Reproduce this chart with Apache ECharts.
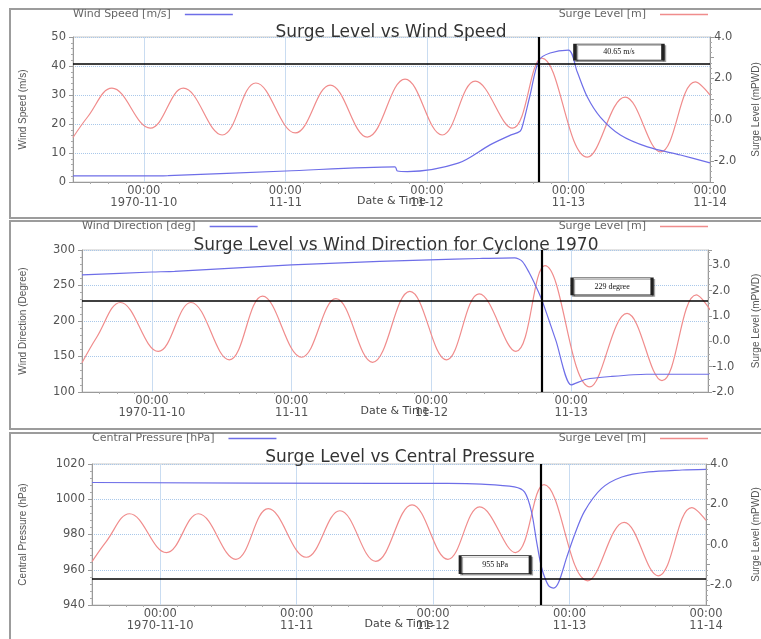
<!DOCTYPE html>
<html><head><meta charset="utf-8">
<script src="https://cdn.jsdelivr.net/npm/echarts@6/dist/echarts.min.js"></script>
<style>html,body{margin:0;padding:0;background:#fff}#c{width:761px;height:639px}</style>
</head><body><div id="c"></div>
<script>
// ---- X axis (hours since 1970-11-09 00:00) ----
const tickHours = [24, 48, 72, 96, 120];
const tickDates = ['1970-11-10', '11-11', '11-12', '11-13', '11-14'];

// ---- Surge level [m] (same in all panels; turning points) ----
const surgeHours = [12.0, 14.5, 18.6, 25.1, 30.7, 37.3, 43.0, 49.7, 55.6, 61.9, 68.3, 74.6, 80.2, 86.5, 91.5, 99.2, 105.6, 111.6, 117.5, 120.0];
const surgeLevel = [-0.85, 0.15, 1.53, -0.4, 1.53, -0.73, 1.78, -0.63, 1.68, -0.83, 1.97, -0.73, 1.87, -0.4, 2.98, -1.8, 1.1, -1.55, 1.83, 1.2];

// ---- Wind speed [m/s] ----
const windHours = [12.0, 24.0, 28.1, 48.1, 66.6, 67.0, 68.7, 77.3, 82.7, 86.0, 87.8, 88.3, 89.5, 91.0, 92.9, 96.0, 97.5, 99.2, 101.4, 104.8, 109.4, 115.0, 120.0];
const windSpeed = [2.1, 2.1, 2.2, 3.8, 5.2, 3.8, 3.6, 6.5, 12.8, 16.0, 17.5, 20.0, 30.0, 42.0, 44.5, 45.5, 37.9, 29.3, 22.4, 16.2, 12.1, 9.3, 6.6];

// ---- Wind direction [deg] ----
const dirHours = [12.0, 24.0, 27.9, 48.0, 63.1, 71.7, 80.2, 86.3, 87.6, 88.8, 90.0, 91.0, 93.4, 96.0, 98.6, 103.0, 108.9, 119.7];
const windDir = [265, 269, 270, 279, 284, 286, 288, 289, 284, 268, 248, 229, 172, 110, 118, 122, 125, 125];

// ---- Central pressure [hPa] ----
const presHours = [12.0, 62.8, 74.6, 80.5, 86.3, 88.1, 89.3, 90.2, 91.1, 92.3, 93.2, 94.1, 95.5, 96.9, 98.6, 101.6, 105.2, 109.9, 115.8, 120.0];
const pressure = [1009.5, 1009, 1009, 1008.6, 1007, 1004, 993, 976, 961, 951, 949.6, 953, 967, 980, 993, 1006, 1012.6, 1015.5, 1016.6, 1017];

// ---- Event markers ----
const eventHour = 91;
const markValues = [40.65, 229, 955];
const markLabels = ['40.65 m/s', '229 degree', '955 hPa'];

// ---- Texts ----
const titles = ['Surge Level vs Wind Speed', 'Surge Level vs Wind Direction for Cyclone 1970', 'Surge Level vs Central Pressure'];
const leftNames = ['Wind Speed [m/s]', 'Wind Direction [deg]', 'Central Pressure [hPa]'];
const leftAxisNames = ['Wind Speed (m/s)', 'Wind Direction (Degree)', 'Central Pressure (hPa)'];
const surgeName = 'Surge Level [m]';
const surgeAxisName = 'Surge Level (mPWD)';

const BLUE = '#6e6ee8', RED = '#f08c8c';
const FONT = 'DejaVu Sans';

const pairs = (h, v) => h.map((x, i) => [x, v[i]]);

const grids = [
  {left: 73, top: 37, width: 637, height: 145},
  {left: 82, top: 250, width: 626, height: 142},
  {left: 92, top: 464, width: 614, height: 141}
];
const xMax = [120, 119.5, 120];
const leftRange = [[0, 50, 10], [100, 300, 50], [940, 1020, 20]];
const rightRange = [[-3, 4], [-2, 3.6], [-3, 4]];
const leftGap = [45, 54, 64];
const rightGap = [41, 43, 45];
const boxSize = [[88, 16], [80, 17], [70, 18]];
const boxOffset = [[80, -12], [70, -14], [-46, -14]];
const titleX = [391, 396, 400];
const titleTop = [24, 237, 449];
const legendTop = [8, 220, 432];
const blueSmooth = [0.3, 0.25, 0.3];

const axisLineGray = '#9a9a9a';
const labelGray = '#555';

const xAxes = grids.map((g, i) => ({
  type: 'value', gridIndex: i, min: 12, max: xMax[i], interval: 12,
  name: 'Date & Time', nameLocation: 'middle', nameGap: 14, nameMoveOverlap: false,
  nameTextStyle: {fontFamily: FONT, fontSize: 11, color: '#444'},
  axisLine: {show: true, onZero: false, lineStyle: {color: axisLineGray}},
  axisTick: {show: false},
  minorTick: {show: true, splitNumber: 4, length: 2, lineStyle: {color: '#aaa'}},
  axisLabel: {
    fontFamily: FONT, fontSize: 11.5, color: labelGray, lineHeight: 12, margin: 3,
    showMinLabel: false,
    formatter: v => { const k = tickHours.indexOf(Math.round(v * 1000) / 1000); return k < 0 ? '' : '00:00\n' + tickDates[k]; }
  },
  splitLine: {show: true, lineStyle: {color: ['rgba(0,0,0,0)', '#c9dcf1'], width: 1, type: 'solid'}}
}));

const yAxes = [];
grids.forEach((g, i) => {
  const [mn, mx, iv] = leftRange[i];
  yAxes.push({
    type: 'value', gridIndex: i, position: 'left', min: mn, max: mx, interval: iv,
    name: leftAxisNames[i], nameLocation: 'middle', nameGap: leftGap[i], nameRotate: 90, nameMoveOverlap: false,
    nameTextStyle: {fontFamily: 'Liberation Sans', fontSize: 10, color: '#555'},
    axisLine: {show: true, lineStyle: {color: axisLineGray}},
    axisTick: {show: true, length: 4, lineStyle: {color: axisLineGray}},
    minorTick: {show: true, splitNumber: 5, length: 2, lineStyle: {color: '#aaa'}},
    axisLabel: {fontFamily: FONT, fontSize: 11.5, color: labelGray, margin: 7, formatter: v => String(v)},
    splitLine: {show: true, lineStyle: {color: '#a9c8ea', type: 'dotted', width: 1}}
  });
  const [rmn, rmx] = rightRange[i];
  yAxes.push({
    type: 'value', gridIndex: i, position: 'right', min: rmn, max: rmx, interval: 1,
    name: surgeAxisName, nameLocation: 'middle', nameGap: rightGap[i], nameRotate: 90, nameMoveOverlap: false,
    nameTextStyle: {fontFamily: 'Liberation Sans', fontSize: 10, color: '#555'},
    axisLine: {show: true, lineStyle: {color: axisLineGray}},
    axisTick: {show: true, length: 4, lineStyle: {color: axisLineGray}},
    minorTick: {show: true, splitNumber: 4, length: 2, lineStyle: {color: '#aaa'}},
    axisLabel: {
      fontFamily: FONT, fontSize: 11.5, color: labelGray, margin: 4,
      formatter: v => {
        if (Math.abs(v - Math.round(v)) > 1e-6) return '';
        if (rmn === -3 && Math.round(v) % 2 !== 0) return '';
        return v.toFixed(1);
      }
    },
    splitLine: {show: false}
  });
});

const leftData = [pairs(windHours, windSpeed), pairs(dirHours, windDir), pairs(presHours, pressure)];

const series = [];
grids.forEach((g, i) => {
  series.push({
    name: leftNames[i], type: 'line', xAxisIndex: i, yAxisIndex: 2 * i,
    data: leftData[i], showSymbol: false, smooth: blueSmooth[i], clip: true,
    lineStyle: {color: BLUE, width: 1.2}, itemStyle: {color: BLUE},
    markLine: {
      silent: true, symbol: ['none', 'none'], animation: false,
      label: {show: false},
      lineStyle: {color: '#000', width: 1.6, type: 'solid'},
      data: [{yAxis: markValues[i]}, {xAxis: eventHour, lineStyle: {color: '#000', width: 2.2, type: 'solid'}}]
    },
    markPoint: {
      silent: true, animation: false,
      symbol: 'rect', symbolSize: boxSize[i], symbolOffset: boxOffset[i],
      itemStyle: {color: '#fff', borderColor: '#222', borderWidth: 1.5,
        shadowColor: 'rgba(0,0,0,0.35)', shadowOffsetX: 1.5, shadowOffsetY: 1.5, shadowBlur: 0},
      label: {show: true, position: 'inside', formatter: markLabels[i], color: '#111',
        fontFamily: 'Liberation Serif', fontSize: 8},
      data: [{coord: [eventHour, markValues[i]]}]
    },
    z: 3
  });
  series.push({
    name: surgeName, type: 'line', xAxisIndex: i, yAxisIndex: 2 * i + 1,
    data: pairs(surgeHours, surgeLevel), showSymbol: false, smooth: 0.4, clip: true,
    lineStyle: {color: RED, width: 1.2}, itemStyle: {color: RED}, z: 2
  });
});

const legendCommon = {
  align: 'right', icon: 'rect', itemWidth: 48, itemHeight: 1.5, orient: 'horizontal', padding: 0,
  textStyle: {fontFamily: FONT, fontSize: 11, color: '#666', padding: [0, 9, 0, 0]},
  selectedMode: false
};
const legends = [];
grids.forEach((g, i) => {
  legends.push(Object.assign({}, legendCommon, {left: g.left, top: legendTop[i] + 1, data: [leftNames[i]]}));
  legends.push(Object.assign({}, legendCommon, {right: 53, top: legendTop[i] + 1, data: [surgeName]}));
});

const titleComps = titles.map((t, i) => ({
  text: t, left: titleX[i], top: titleTop[i], textAlign: 'center', padding: 0,
  textStyle: {fontFamily: FONT, fontSize: 17, fontWeight: 'normal', color: '#333'}
}));

const frameStyle = {fill: 'none', stroke: '#9c9c9c', lineWidth: 2};
const option = {
  animation: false,
  backgroundColor: '#fff',
  title: titleComps,
  legend: legends,
  grid: grids.map(g => Object.assign({}, g, {show: true, borderColor: '#c8c8c8', borderWidth: 1, backgroundColor: '#fff', containLabel: false, outerBoundsMode: 'none'})),
  xAxis: xAxes,
  yAxis: yAxes,
  series: series,
  graphic: [
    {type: 'rect', shape: {x: 10, y: 9, width: 780, height: 209}, style: frameStyle, silent: true, z: -10},
    {type: 'rect', shape: {x: 10, y: 221, width: 780, height: 208}, style: frameStyle, silent: true, z: -10},
    {type: 'rect', shape: {x: 10, y: 433, width: 780, height: 220}, style: frameStyle, silent: true, z: -10}
  ]
};

const chart = echarts.init(document.getElementById('c'), null, {renderer: 'canvas'});
chart.setOption(option);
</script>
</body></html>
